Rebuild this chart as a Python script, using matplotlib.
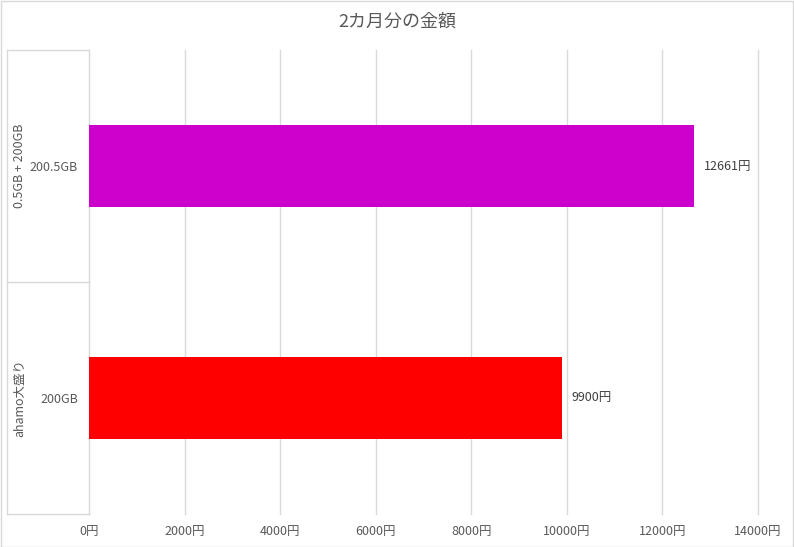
import matplotlib
matplotlib.use("Agg")
import matplotlib.pyplot as plt
from matplotlib.lines import Line2D
from matplotlib.patches import Rectangle
import matplotlib.transforms as mtrans

plt.rcParams['font.family'] = ['Noto Sans CJK JP', 'DejaVu Sans']

# Data (bottom to top)
groups = ["ahamo大盛り", "0.5GB + 200GB"]
subcats = ["200GB", "200.5GB"]
values = [9900, 12661]
colors = ["#FF0000", "#CC00CC"]
xticks = [0, 2000, 4000, 6000, 8000, 10000, 12000, 14000]
xticklabels = [f"{v}円" for v in xticks]
title = "2カ月分の金額"

W, H = 794, 547
fig = plt.figure(figsize=(W/100, H/100), dpi=100)
L, R, T, B = 89, 758, 50, 514
ax = fig.add_axes([L/W, 1 - B/H, (R-L)/W, (B-T)/H])

ypos = list(range(len(values)))
bars = ax.barh(ypos, values, height=0.353, color=colors, zorder=3)
ax.bar_label(bars, labels=[f"{v}円" for v in values], padding=7,
             fontsize=9, color="#404040")

ax.set_xlim(0, 14000)
ax.set_ylim(-0.5, len(values) - 0.5)
ax.set_xticks(xticks)
ax.set_xticklabels(xticklabels, fontsize=9, color="#595959")
ax.tick_params(axis='x', length=0, pad=8)
ax.set_yticks(ypos)
ax.set_yticklabels(subcats, fontsize=9, color="#595959")
ax.tick_params(axis='y', length=0, pad=8)
for xv in xticks[1:]:
    ax.axvline(xv, color="#d9d9d9", linewidth=1, zorder=0, clip_on=False)
for s in ["top", "right", "bottom"]:
    ax.spines[s].set_visible(False)
ax.spines["left"].set_color("#d9d9d9")
ax.spines["left"].set_linewidth(1)

# Outer group labels (rotated)
trans = mtrans.blended_transform_factory(fig.transFigure, ax.transData)
for y, g in zip(ypos, groups):
    fig.text(20/W, y, g, transform=trans, rotation=90, ha='center', va='center',
             fontsize=9, color="#595959")

# Left category box lines
figl = []
for yy in [T, (T+B)/2, B]:
    figl.append(Line2D([7/W, L/W], [1 - yy/H, 1 - yy/H], color="#d9d9d9", lw=1))
figl.append(Line2D([7/W, 7/W], [1 - T/H, 1 - B/H], color="#d9d9d9", lw=1))
for l in figl:
    fig.add_artist(l)

# Chart border
fig.add_artist(Rectangle((0.5/W, 0.5/H), 1 - 1.5/W, 1 - 1.5/H, transform=fig.transFigure,
                         fill=False, edgecolor="#d9d9d9", lw=1))

fig.text(0.5, 1 - 22/H, title, ha='center', va='center', fontsize=13, color="#595959")

fig.savefig("out.png", dpi=100)
